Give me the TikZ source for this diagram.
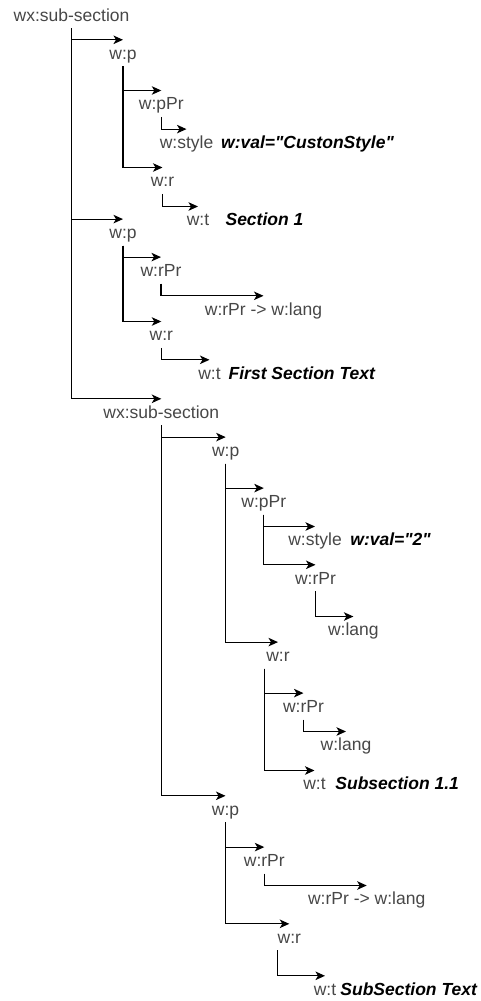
\documentclass[tikz,border=0pt]{standalone}
\usepackage{fontspec}
\setmainfont[Ligatures=TeXOff]{Liberation Sans}
\usetikzlibrary{positioning,arrows.meta}
\definecolor{tagtext}{HTML}{474747}

\begin{document}
\begin{tikzpicture}[x=1pt, y=-1pt,
    every node/.style={font=\fontsize{17.5}{20}\selectfont, inner xsep=0pt, inner ysep=4.5pt, text height=14.5pt, text depth=2.5pt},
    tag/.style={text=tagtext},
    val/.style={font=\fontsize{17.5}{20}\selectfont\bfseries\itshape, text=black},
    link/.style={-{Stealth[length=9.5pt,width=8.5pt,inset=2.5pt]}, line width=1.2pt}]
  \useasboundingbox (0,0) rectangle (480,1001);
  \node[tag] (root) at (71.5,15) {wx:sub-section};
  \node[tag] (p1) at (123,53) {w:p};
  \node[tag] (pPr1) at (161.3,103.7) {w:pPr};
  \node[tag] (style1) at (186.5,142.3) {w:style};
  \node[val, right=7.5pt of style1] (sval1) {w:val="CustonStyle"};
  \node[tag] (r1) at (162.5,180.7) {w:r};
  \node[tag] (t1) at (198,219.7) {w:t};
  \node[val, right=16pt of t1] (tval1) {Section 1};
  \node[tag] (p2) at (123,232.3) {w:p};
  \node[tag] (rPr2) at (161,270.3) {w:rPr};
  \node[tag] (lang2) at (263.5,309) {w:rPr -> w:lang};
  \node[tag] (r2) at (161.3,334.7) {w:r};
  \node[tag] (t2) at (209.5,373) {w:t};
  \node[val, right=7.6pt of t2] (tval2) {First Section Text};
  \node[tag] (sub) at (161.3,412) {wx:sub-section};
  \node[tag] (p3) at (225.7,450.3) {w:p};
  \node[tag] (pPr3) at (263.8,501.3) {w:pPr};
  \node[tag] (style3) at (315,539.7) {w:style};
  \node[val, right=8.3pt of style3] (sval3) {w:val="2"};
  \node[tag] (rPr3) at (315.5,578) {w:rPr};
  \node[tag] (lang3) at (353.4,629.7) {w:lang};
  \node[tag] (r3) at (278,655.3) {w:r};
  \node[tag] (rPr4) at (303.5,706.3) {w:rPr};
  \node[tag] (lang4) at (346,744.7) {w:lang};
  \node[tag] (t3) at (314.5,783.7) {w:t};
  \node[val, right=9.3pt of t3] (tval3) {Subsection 1.1};
  \node[tag] (p4) at (225.5,809) {w:p};
  \node[tag] (rPr5) at (264.3,860.3) {w:rPr};
  \node[tag] (lang5) at (366.7,898.7) {w:rPr -> w:lang};
  \node[tag] (r4) at (289.3,937) {w:r};
  \node[tag] (t4) at (325,989) {w:t};
  \node[val, right=3.8pt of t4] (tval4) {SubSection Text};

  \draw[link] (root.south) |- (p1.north);
  \draw[link] (root.south) |- (p2.north);
  \draw[link] (root.south) |- (sub.north);
  \draw[link] (p1.south) |- (pPr1.north);
  \draw[link] (p1.south) |- (r1.north);
  \draw[link] (pPr1.south) |- (style1.north);
  \draw[link] (r1.south) |- (t1.north);
  \draw[link] (p2.south) |- (rPr2.north);
  \draw[link] (p2.south) |- (r2.north);
  \draw[link] (rPr2.south) |- (lang2.north);
  \draw[link] (r2.south) |- (t2.north);
  \draw[link] (sub.south) |- (p3.north);
  \draw[link] (sub.south) |- (p4.north);
  \draw[link] (p3.south) |- (pPr3.north);
  \draw[link] (p3.south) |- (r3.north);
  \draw[link] (pPr3.south) |- (style3.north);
  \draw[link] (pPr3.south) |- (rPr3.north);
  \draw[link] (rPr3.south) |- (lang3.north);
  \draw[link] ([xshift=-2pt]r3.south west) |- (rPr4.north);
  \draw[link] ([xshift=-2pt]r3.south west) |- (t3.north);
  \draw[link] (rPr4.south) |- (lang4.north);
  \draw[link] (p4.south) |- (rPr5.north);
  \draw[link] (p4.south) |- (r4.north);
  \draw[link] (rPr5.south) |- (lang5.north);
  \draw[link] (r4.south west) |- (t4.north);
\end{tikzpicture}
\end{document}
